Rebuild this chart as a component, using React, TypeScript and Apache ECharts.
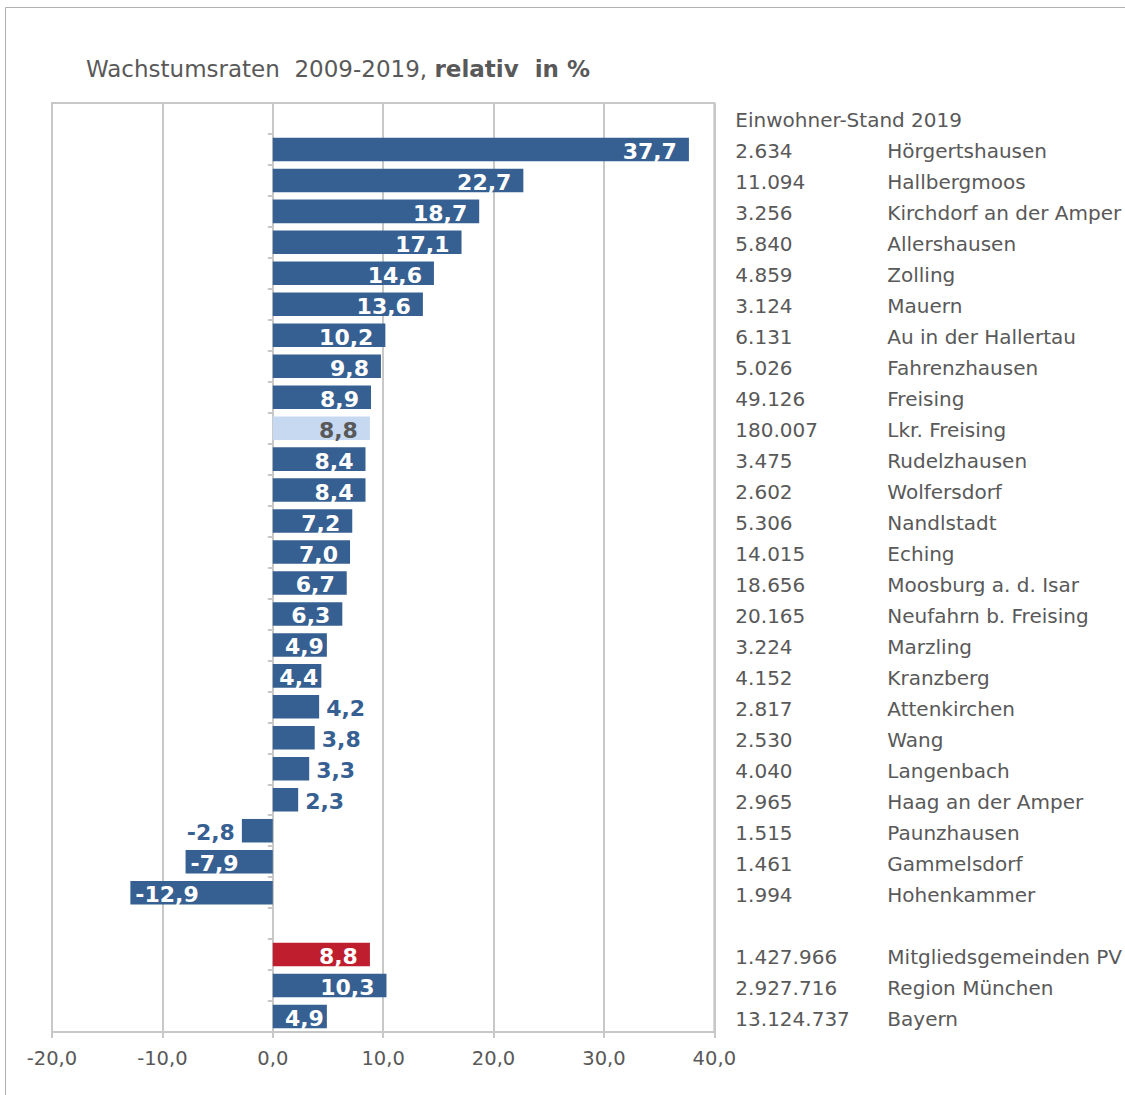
import React, { useEffect, useRef } from "react";
import * as echarts from "echarts";

// ---- data ----
const categories = [
  "",
  "Hörgertshausen",
  "Hallbergmoos",
  "Kirchdorf an der Amper",
  "Allershausen",
  "Zolling",
  "Mauern",
  "Au in der Hallertau",
  "Fahrenzhausen",
  "Freising",
  "Lkr. Freising",
  "Rudelzhausen",
  "Wolfersdorf",
  "Nandlstadt",
  "Eching",
  "Moosburg a. d. Isar",
  "Neufahrn b. Freising",
  "Marzling",
  "Kranzberg",
  "Attenkirchen",
  "Wang",
  "Langenbach",
  "Haag an der Amper",
  "Paunzhausen",
  "Gammelsdorf",
  "Hohenkammer",
  "",
  "Mitgliedsgemeinden PV",
  "Region München",
  "Bayern",
];

const populations = [
  "",
  "2.634",
  "11.094",
  "3.256",
  "5.840",
  "4.859",
  "3.124",
  "6.131",
  "5.026",
  "49.126",
  "180.007",
  "3.475",
  "2.602",
  "5.306",
  "14.015",
  "18.656",
  "20.165",
  "3.224",
  "4.152",
  "2.817",
  "2.530",
  "4.040",
  "2.965",
  "1.515",
  "1.461",
  "1.994",
  "",
  "1.427.966",
  "2.927.716",
  "13.124.737",
];

const growth: (number | null)[] = [
  null,
  37.7, 22.7, 18.7, 17.1, 14.6, 13.6, 10.2, 9.8, 8.9, 8.8,
  8.4, 8.4, 7.2, 7.0, 6.7, 6.3, 4.9, 4.4, 4.2, 3.8,
  3.3, 2.3, -2.8, -7.9, -12.9,
  null,
  8.8, 10.3, 4.9,
];

const xMin = -20;
const xMax = 40;
const xInterval = 10;
const headerLabel = "Einwohner-Stand 2019";
const lightBarName = "Lkr. Freising";
const redBarName = "Mitgliedsgemeinden PV";

const titleRegular = "Wachstumsraten  2009-2019, ";
const titleBold = "relativ  in %";

// ---- styles ----
const FONT = "DejaVu Sans";
const BLUE = "#376092";
const RED = "#be1e2d";
const LIGHT = "#c6d9f1";
const TEXT = "#595959";
const GRID = "#c8c8c8";

const fmt = (v: number) => v.toFixed(1).replace(".", ",");

export default function App() {
  const ref = useRef<HTMLDivElement>(null);

  useEffect(() => {
    if (!ref.current) return;
    const chart = echarts.init(ref.current, undefined, { renderer: "svg" });

    const keys = categories.map((c, i) => c || `blank${i}`);

    const data = growth.map((v, i) => {
      if (v === null) return { value: null as any };
      const name = categories[i];
      let color = BLUE;
      let labelColor = "#ffffff";
      if (name === lightBarName) {
        color = LIGHT;
        labelColor = TEXT;
      } else if (name === redBarName) {
        color = RED;
      }
      let position: any = v >= 0 ? "insideRight" : "insideLeft";
      let distance = v >= 0 ? (v < 5 ? 3 : 12) : 5;
      if (Math.abs(v) < 4.3) {
        position = v >= 0 ? "right" : "left";
        labelColor = BLUE;
        distance = 7;
      }
      return {
        value: v,
        itemStyle: { color },
        label: { position, color: labelColor, distance },
      };
    });

    chart.setOption({
      animation: false,
      title: {
        text: `{a|${titleRegular}}{b|${titleBold}}`,
        left: 86,
        top: 57,
        padding: 0,
        textStyle: {
          rich: {
            a: { fontFamily: FONT, fontSize: 23, color: TEXT, fontWeight: "normal" },
            b: { fontFamily: FONT, fontSize: 23, color: TEXT, fontWeight: "bold" },
          },
        },
      },
      graphic: [
        {
          type: "rect",
          silent: true,
          z: -1,
          shape: { x: 5.5, y: 7.5, width: 1400, height: 1400 },
          style: { fill: "none", stroke: "#b0b0b0", lineWidth: 1 },
        },
      ],
      grid: {
        left: 52,
        right: 410,
        top: 103,
        bottom: 63,
        show: true,
        borderColor: GRID,
        borderWidth: 2,
      },
      xAxis: {
        type: "value",
        min: xMin,
        max: xMax,
        interval: xInterval,
        axisLine: { show: true, lineStyle: { color: GRID, width: 2 } },
        axisTick: { show: true, length: 6, lineStyle: { color: GRID, width: 2 } },
        splitLine: { show: true, lineStyle: { color: GRID, width: 2 } },
        axisLabel: {
          formatter: (v: number) => fmt(v),
          color: TEXT,
          fontFamily: FONT,
          fontSize: 19.5,
          margin: 16,
        },
      },
      yAxis: [
        {
          type: "category",
          inverse: true,
          data: keys,
          axisLine: { show: true, onZero: true, lineStyle: { color: GRID, width: 2 } },
          axisTick: { show: true, length: 5, lineStyle: { color: GRID, width: 2 } },
          axisLabel: { show: false },
          splitLine: { show: false },
        },
        {
          type: "category",
          inverse: true,
          position: "right",
          data: keys,
          axisLine: { show: false, onZero: false },
          axisTick: { show: false },
          splitLine: { show: false },
          axisLabel: {
            margin: 21,
            interval: 0,
            formatter: (_v: string, index: number) => {
              if (index === 0) return `{h|${headerLabel}}`;
              if (!categories[index]) return "";
              return `{p|${populations[index]}}{n|${categories[index]}}`;
            },
            rich: {
              h: { fontFamily: FONT, fontSize: 20, color: TEXT, padding: [4, 0, 0, 0] },
              p: { fontFamily: FONT, fontSize: 20, color: TEXT, width: 152, padding: [4, 0, 0, 0] },
              n: { fontFamily: FONT, fontSize: 20, color: TEXT, padding: [4, 0, 0, 0] },
            },
          },
        },
      ],
      series: [
        {
          type: "bar",
          yAxisIndex: 0,
          data,
          barCategoryGap: "24%",
          label: {
            show: true,
            fontFamily: FONT,
            fontSize: 22,
            fontWeight: "bold",
            offset: [0, 2],
            formatter: (p: any) => (p.value == null ? "" : fmt(p.value)),
          },
        },
      ],
    });

    return () => chart.dispose();
  }, []);

  return (
    <div
      ref={ref}
      style={{ position: "absolute", left: 0, top: 0, width: 1125, height: 1095, background: "#fff" }}
    />
  );
}
